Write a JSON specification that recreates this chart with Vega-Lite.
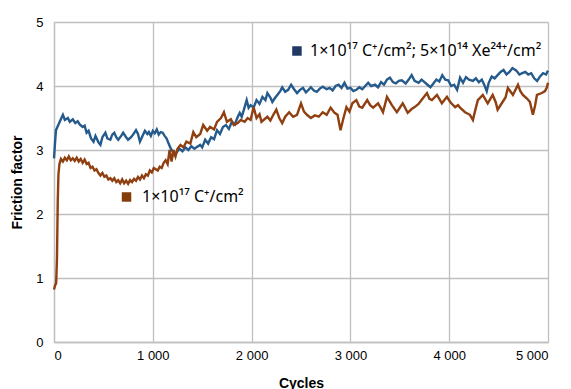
{
  "$schema": "https://vega.github.io/schema/vega-lite/v6.json",
  "width": 494,
  "height": 320,
  "autosize": {"type": "none"},
  "padding": {"left": 54, "top": 22, "right": 23, "bottom": 47},
  "background": "white",
  "config": {
    "view": {"stroke": null},
    "axis": {
      "grid": true, "gridColor": "#bfbfbf", "gridWidth": 1.3,
      "domainColor": "#bfbfbf", "domainWidth": 1.3, "ticks": false,
      "labelFont": "Liberation Sans", "labelFontSize": 13, "labelColor": "#000000",
      "titleFont": "Liberation Sans", "titleFontSize": 14, "titleFontWeight": "bold", "titleColor": "#000000"
    }
  },
  "datasets": {
    "blue": [[0,2.87],[10,3.1],[20,3.31],[40,3.38],[60,3.45],[90,3.55],[110,3.47],[140,3.5],[160,3.44],[190,3.48],[215,3.42],[240,3.45],[260,3.4],[290,3.36],[310,3.38],[330,3.27],[350,3.3],[375,3.18],[400,3.13],[420,3.22],[450,3.12],[470,3.08],[490,3.2],[520,3.27],[540,3.18],[570,3.16],[590,3.24],[610,3.27],[630,3.2],[650,3.16],[680,3.22],[700,3.27],[730,3.2],[750,3.16],[780,3.2],[800,3.24],[830,3.31],[850,3.25],[870,3.13],[890,3.2],[920,3.3],[945,3.25],[960,3.28],[980,3.22],[1000,3.3],[1020,3.26],[1040,3.32],[1060,3.24],[1080,3.28],[1100,3.27],[1120,3.22],[1140,3.18],[1160,3.1],[1180,3.03],[1200,2.98],[1220,2.92],[1240,2.96],[1270,3.02],[1300,2.98],[1330,3.04],[1360,3.0],[1390,3.06],[1420,3.02],[1450,3.05],[1480,3.08],[1500,3.04],[1530,3.16],[1560,3.1],[1590,3.2],[1620,3.17],[1650,3.31],[1680,3.25],[1710,3.36],[1740,3.39],[1770,3.33],[1800,3.44],[1830,3.4],[1860,3.52],[1880,3.58],[1900,3.52],[1920,3.62],[1950,3.78],[1970,3.66],[1990,3.7],[2020,3.66],[2050,3.78],[2080,3.72],[2110,3.83],[2140,3.78],[2160,3.89],[2190,3.82],[2210,3.75],[2240,3.82],[2260,3.86],[2290,3.92],[2310,3.98],[2340,3.91],[2370,3.94],[2400,4.02],[2430,3.95],[2460,3.89],[2490,3.94],[2520,3.97],[2550,3.9],[2570,3.93],[2600,3.98],[2630,3.93],[2660,3.91],[2690,3.96],[2720,3.99],[2760,3.95],[2790,3.97],[2820,3.93],[2850,4.0],[2880,4.02],[2910,3.97],[2940,4.05],[2970,3.96],[3000,3.97],[3030,3.92],[3060,3.94],[3090,3.98],[3120,3.95],[3150,4.0],[3180,4.05],[3210,4.0],[3250,4.02],[3280,3.98],[3310,4.06],[3340,4.02],[3370,4.1],[3400,4.13],[3430,4.06],[3460,4.04],[3490,4.08],[3520,4.09],[3560,4.04],[3590,4.1],[3620,4.17],[3650,4.08],[3690,4.05],[3720,4.1],[3750,4.06],[3780,4.02],[3810,3.98],[3840,4.04],[3870,4.1],[3900,4.07],[3930,4.17],[3960,4.1],[3990,4.09],[4020,4.0],[4050,4.02],[4080,3.94],[4110,4.13],[4140,4.05],[4170,4.14],[4200,4.1],[4240,4.08],[4270,4.12],[4300,4.06],[4330,4.1],[4360,4.0],[4380,3.92],[4400,4.05],[4430,4.15],[4460,4.12],[4490,4.17],[4520,4.22],[4550,4.25],[4580,4.18],[4610,4.22],[4640,4.28],[4680,4.24],[4710,4.18],[4740,4.2],[4770,4.22],[4800,4.18],[4830,4.2],[4860,4.12],[4890,4.08],[4920,4.15],[4950,4.2],[4980,4.18],[5000,4.24]],
    "brown": [[0,0.82],[10,0.88],[22,0.92],[30,1.3],[38,2.2],[45,2.62],[55,2.78],[70,2.86],[90,2.82],[110,2.88],[130,2.84],[150,2.9],[170,2.84],[190,2.87],[210,2.83],[230,2.88],[250,2.82],[270,2.86],[290,2.8],[310,2.85],[330,2.78],[350,2.8],[370,2.72],[390,2.74],[410,2.68],[430,2.7],[450,2.64],[470,2.6],[490,2.64],[510,2.58],[530,2.6],[550,2.54],[570,2.56],[590,2.52],[610,2.56],[630,2.5],[650,2.53],[670,2.48],[690,2.54],[710,2.48],[730,2.52],[750,2.47],[770,2.53],[790,2.5],[810,2.55],[830,2.52],[850,2.58],[870,2.54],[890,2.6],[910,2.56],[930,2.62],[950,2.6],[970,2.68],[990,2.65],[1010,2.72],[1030,2.7],[1050,2.68],[1070,2.74],[1090,2.72],[1110,2.8],[1130,2.84],[1150,2.78],[1170,3.0],[1190,2.82],[1210,3.0],[1230,2.9],[1250,3.02],[1280,3.08],[1310,3.04],[1340,3.13],[1380,3.1],[1410,3.28],[1440,3.2],[1480,3.25],[1510,3.39],[1550,3.3],[1580,3.36],[1620,3.32],[1650,3.44],[1690,3.5],[1720,3.59],[1750,3.44],[1790,3.48],[1820,3.39],[1860,3.42],[1890,3.47],[1930,3.44],[1960,3.5],[1990,3.47],[2020,3.67],[2050,3.5],[2080,3.56],[2100,3.44],[2130,3.48],[2160,3.52],[2190,3.46],[2220,3.55],[2250,3.63],[2280,3.5],[2310,3.42],[2340,3.52],[2380,3.59],[2420,3.52],[2460,3.55],[2500,3.73],[2530,3.6],[2560,3.55],[2600,3.5],[2640,3.54],[2680,3.52],[2720,3.59],[2760,3.55],[2800,3.66],[2840,3.58],[2870,3.55],[2900,3.31],[2930,3.5],[2960,3.67],[2990,3.6],[3020,3.73],[3060,3.78],[3090,3.68],[3120,3.66],[3170,3.78],[3200,3.7],[3230,3.66],[3280,3.73],[3310,3.65],[3330,3.59],[3370,3.83],[3420,3.7],[3470,3.59],[3500,3.66],[3530,3.73],[3580,3.58],[3620,3.64],[3650,3.67],[3690,3.72],[3720,3.78],[3775,3.89],[3800,3.8],[3825,3.78],[3876,3.86],[3900,3.8],[3926,3.73],[3977,3.83],[4010,3.75],[4040,3.7],[4060,3.67],[4090,3.7],[4110,3.66],[4160,3.59],[4210,3.55],[4240,3.47],[4260,3.6],[4290,3.78],[4340,3.86],[4390,3.73],[4440,3.86],[4470,3.75],[4490,3.63],[4540,3.75],[4570,3.82],[4594,3.97],[4645,3.86],[4696,4.02],[4720,3.92],[4746,3.86],[4790,3.8],[4817,3.75],[4847,3.55],[4870,3.7],[4888,3.86],[4938,3.89],[4970,3.92],[4989,3.98],[5000,4.05]],
    "labels": [
      {"series": "C+Xe", "mx": 2459, "tx": 2591, "y": 4.547, "label": "1×10¹⁷ C⁺/cm²; 5×10¹⁴ Xe²⁴⁺/cm²"},
      {"series": "C", "mx": 734, "tx": 891, "y": 2.266, "label": "1×10¹⁷ C⁺/cm²"}
    ]
  },
  "layer": [
    {
      "data": {"name": "blue"},
      "mark": {"type": "line", "color": "#255a8c", "strokeWidth": 2.4},
      "encoding": {
        "x": {"field": "0", "type": "quantitative", "scale": {"domain": [0, 5000], "nice": false},
              "axis": {"values": [0,1000,2000,3000,4000,5000], "title": "Cycles", "labelPadding": 7, "titlePadding": 14,
                       "labelExpr": "datum.value == 0 ? '0' : floor(datum.value/1000) + ' 000'"}},
        "y": {"field": "1", "type": "quantitative", "scale": {"domain": [0, 5], "nice": false},
              "axis": {"values": [0,1,2,3,4,5], "format": "d", "title": "Friction factor", "labelPadding": 11, "titlePadding": 11}}
      }
    },
    {
      "data": {"name": "brown"},
      "mark": {"type": "line", "color": "#8f3f10", "strokeWidth": 2.4},
      "encoding": {
        "x": {"field": "0", "type": "quantitative"},
        "y": {"field": "1", "type": "quantitative"}
      }
    },
    {
      "data": {"name": "labels"},
      "mark": {"type": "point", "shape": "square", "filled": true, "size": 90, "opacity": 1},
      "encoding": {
        "x": {"field": "mx", "type": "quantitative"},
        "y": {"field": "y", "type": "quantitative"},
        "color": {"field": "series", "type": "nominal", "scale": {"domain": ["C+Xe", "C"], "range": ["#203864", "#843c0c"]}, "legend": null}
      }
    },
    {
      "data": {"name": "labels"},
      "mark": {"type": "text", "align": "left", "baseline": "middle", "font": "Noto Sans", "fontSize": 16, "color": "#000000"},
      "encoding": {
        "x": {"field": "tx", "type": "quantitative"},
        "y": {"field": "y", "type": "quantitative"},
        "text": {"field": "label"}
      }
    }
  ]
}
